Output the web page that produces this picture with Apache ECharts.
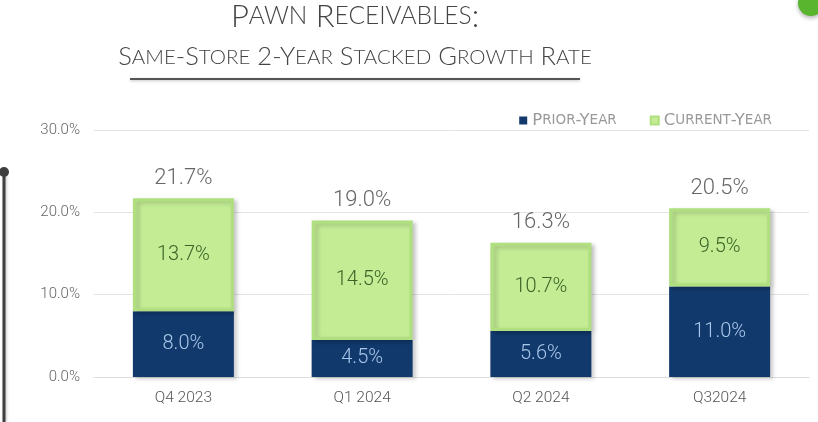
<!DOCTYPE html>
<html>
<head>
<meta charset="utf-8">
<script src="https://cdn.jsdelivr.net/npm/echarts@6/dist/echarts.min.js"></script>
<style>
  html, body { margin: 0; padding: 0; background: #ffffff; }
  #chart { width: 818px; height: 422px; }
</style>
</head>
<body>
<div id="chart"></div>
<script>
// Quarterly same-store pawn receivables growth, stacked by year
const categories = ['Q4 2023', 'Q1 2024', 'Q2 2024', 'Q32024'];
const priorYear = [8.0, 4.5, 5.6, 11.0];
const currentYear = [13.7, 14.5, 10.7, 9.5];
const stackedTotal = [21.7, 19.0, 16.3, 20.5];
const yTicks = [0, 10, 20, 30];

const TITLE = 'Pawn Receivables:';
const SUBTITLE = 'Same-Store 2-Year Stacked Growth Rate';

// Turn mixed-case text into small-caps rich text tokens:
// capitals use style "c", lowercase letters are upper-cased with style "s".
function smallCaps(text, big, small) {
  let out = '';
  let cur = null, buf = '';
  for (const ch of text) {
    const cls = (ch >= 'a' && ch <= 'z') ? small : big;
    const c = cls === small ? ch.toUpperCase() : ch;
    if (cls !== cur && buf) { out += '{' + cur + '|' + buf + '}'; buf = ''; }
    cur = cls; buf += c;
  }
  if (buf) out += '{' + cur + '|' + buf + '}';
  return out;
}

const fmtPct = v => Number(v).toFixed(1) + '%';
const barShadow = {
  shadowBlur: 4,
  shadowOffsetX: 3,
  shadowOffsetY: 2,
  shadowColor: 'rgba(0,0,0,0.2)'
};

const chart = echarts.init(document.getElementById('chart'), null, { renderer: 'canvas' });

chart.setOption({
  backgroundColor: '#ffffff',
  animation: false,
  textStyle: { fontFamily: 'Roboto, "Noto Sans", sans-serif' },
  grid: { left: 94, right: 9, top: 130, bottom: 45 },
  legend: {
    data: ['Prior-Year', 'Current-Year'],
    right: 41,
    top: 107,
    icon: 'rect',
    itemWidth: 8,
    itemHeight: 8,
    itemGap: 33,
    formatter: name => smallCaps(name, 'c', 's'),
    textStyle: {
      color: '#999999',
      rich: {
        c: { fontFamily: 'DejaVu Sans', fontSize: 16.5, color: '#999999' },
        s: { fontFamily: 'DejaVu Sans', fontSize: 13.5, color: '#999999' }
      }
    }
  },
  xAxis: {
    type: 'category',
    data: categories,
    axisTick: { show: false },
    axisLine: { lineStyle: { color: '#dddddd', width: 1 } },
    axisLabel: { color: '#555555', fontSize: 15.5, fontWeight: 300, margin: 13 }
  },
  yAxis: {
    type: 'value',
    min: yTicks[0],
    max: yTicks[yTicks.length - 1],
    interval: yTicks[1] - yTicks[0],
    axisLine: { show: false },
    axisTick: { show: false },
    axisLabel: { color: '#666666', fontSize: 15, fontWeight: 300, margin: 14, formatter: fmtPct },
    splitLine: { lineStyle: { color: '#e3e3e3', width: 1 } }
  },
  series: [
    {
      name: 'Prior-Year',
      type: 'bar',
      stack: 'growth',
      barWidth: 101,
      barGap: '-100%',
      data: priorYear,
      itemStyle: Object.assign({ color: '#11396c' }, barShadow),
      label: {
        show: true,
        position: 'inside',
        color: '#a9c7ea',
        fontSize: 20,
        fontWeight: 300,
        formatter: p => fmtPct(p.value)
      },
      z: 3
    },
    {
      name: 'Current-Year',
      type: 'bar',
      stack: 'growth',
      barWidth: 101,
      barGap: '-100%',
      data: currentYear,
      itemStyle: Object.assign({ color: '#c3ec95', borderColor: '#b0df80', borderWidth: 3 }, barShadow),
      label: {
        show: true,
        position: 'inside',
        color: '#3b6326',
        fontSize: 20,
        fontWeight: 300,
        formatter: p => fmtPct(p.value)
      },
      z: 3
    },
    {
      // Invisible overlay carrying the stacked total above each column
      name: 'Total',
      type: 'bar',
      barWidth: 101,
      barGap: '-100%',
      data: stackedTotal,
      silent: true,
      itemStyle: { color: 'rgba(0,0,0,0)' },
      label: {
        show: true,
        position: 'top',
        distance: 9,
        color: '#666666',
        fontSize: 22,
        fontWeight: 300,
        formatter: p => fmtPct(p.value)
      },
      z: 1
    }
  ],
  graphic: [
    {
      type: 'text',
      x: 355,
      y: 32,
      style: {
        text: smallCaps(TITLE, 'c', 's'),
        align: 'center',
        verticalAlign: 'bottom',
        rich: {
          c: { fontFamily: 'Lato, sans-serif', fontSize: 31, fontWeight: 300, fill: '#444444' },
          s: { fontFamily: 'Lato, sans-serif', fontSize: 24.5, fontWeight: 300, fill: '#444444' }
        }
      }
    },
    {
      type: 'text',
      x: 355,
      y: 70,
      style: {
        text: smallCaps(SUBTITLE, 'c', 's'),
        align: 'center',
        verticalAlign: 'bottom',
        rich: {
          c: { fontFamily: 'Lato, sans-serif', fontSize: 25.5, fontWeight: 300, fill: '#444444' },
          s: { fontFamily: 'Lato, sans-serif', fontSize: 20.5, fontWeight: 300, fill: '#444444' }
        }
      }
    },
    {
      type: 'line',
      shape: { x1: 130, y1: 79, x2: 580, y2: 79 },
      style: { stroke: '#555555', lineWidth: 2, shadowBlur: 3, shadowOffsetY: 1, shadowColor: 'rgba(0,0,0,0.25)' }
    },
    {
      type: 'line',
      shape: { x1: 4, y1: 172, x2: 4, y2: 422 },
      style: { stroke: '#3e3e3e', lineWidth: 3, shadowBlur: 3, shadowOffsetX: 1, shadowColor: 'rgba(0,0,0,0.25)' }
    },
    {
      type: 'circle',
      shape: { cx: 4, cy: 172, r: 5 },
      style: { fill: '#3e3e3e' }
    },
    {
      type: 'circle',
      shape: { cx: 811, cy: 3, r: 13 },
      style: { fill: '#5ab52e', shadowBlur: 4, shadowOffsetY: 2, shadowColor: 'rgba(0,0,0,0.3)' }
    }
  ]
});
</script>
</body>
</html>
